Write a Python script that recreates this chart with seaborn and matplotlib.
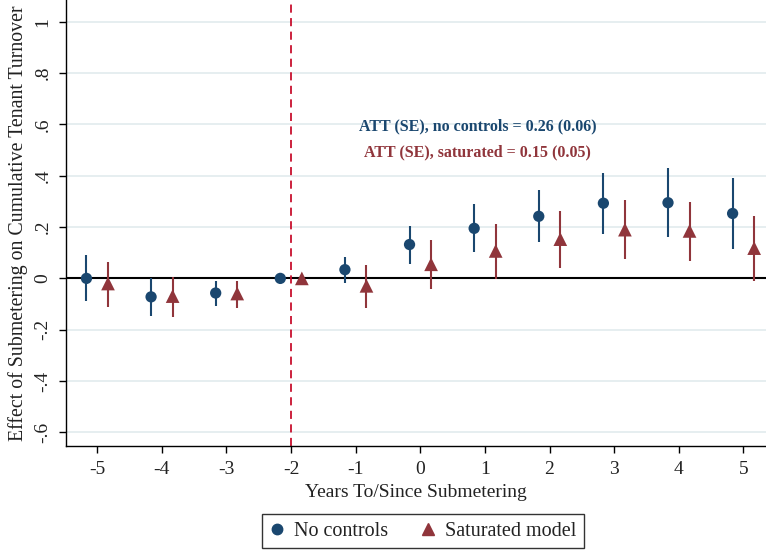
import numpy as np
import pandas as pd
import matplotlib
matplotlib.use("Agg")
import matplotlib.pyplot as plt
from matplotlib.lines import Line2D
import seaborn as sns

# Event-study estimates: years relative to submetering (t = -2 is the omitted year)
event_time = [-5, -4, -3, -2, -1, 0, 1, 2, 3, 4, 5]

no_controls_est = [0.000, -0.072, -0.057, 0.000, 0.034, 0.132, 0.195, 0.242, 0.293, 0.295, 0.253]
no_controls_lo = [-0.089, -0.146, -0.107, 0.000, -0.017, 0.058, 0.101, 0.140, 0.173, 0.160, 0.113]
no_controls_hi = [0.091, 0.000, -0.011, 0.000, 0.084, 0.205, 0.288, 0.343, 0.412, 0.429, 0.392]

saturated_est = [-0.020, -0.069, -0.059, 0.000, -0.029, 0.055, 0.107, 0.153, 0.190, 0.185, 0.118]
saturated_lo = [-0.110, -0.150, -0.115, 0.000, -0.115, -0.043, -0.003, 0.039, 0.074, 0.067, -0.011]
saturated_hi = [0.065, 0.004, -0.009, 0.000, 0.052, 0.148, 0.212, 0.264, 0.304, 0.299, 0.243]

series_names = ["No controls", "Saturated model"]
series_offsets = [-1 / 6, 1 / 6]

att_no_controls = "ATT (SE), no controls = 0.26 (0.06)"
att_saturated = "ATT (SE), saturated = 0.15 (0.05)"

y_ticks = [-0.6, -0.4, -0.2, 0, 0.2, 0.4, 0.6, 0.8, 1.0]
y_tick_labels = ["-.6", "-.4", "-.2", "0", ".2", ".4", ".6", ".8", "1"]

navy = "#1a476f"
maroon = "#90353b"
cranberry = "#c8102e"
grid_col = "#e6eef0"

frames = []
for name, off, est, lo, hi in [
    (series_names[0], series_offsets[0], no_controls_est, no_controls_lo, no_controls_hi),
    (series_names[1], series_offsets[1], saturated_est, saturated_lo, saturated_hi),
]:
    frames.append(pd.DataFrame({
        "event_time": event_time,
        "pos": np.array(event_time) + off,
        "estimate": est,
        "lo": lo,
        "hi": hi,
        "model": name,
    }))
df = pd.concat(frames, ignore_index=True)

sns.set_theme(style="white")
plt.rcParams["font.family"] = ["Liberation Serif", "DejaVu Serif"]

fig = plt.figure(figsize=(7.66, 5.52), dpi=100)
ax = fig.add_axes([0.0856, 0.1926, 1.0 - 0.0856, 1.0 - 0.1926])

palette = {series_names[0]: navy, series_names[1]: maroon}
markers = {series_names[0]: "o", series_names[1]: "^"}
sizes = {series_names[0]: 66, series_names[1]: 97}

# light horizontal grid at each y tick
for yt in y_ticks:
    ax.axhline(yt, color=grid_col, lw=1.4, zorder=0)

ax.axhline(0, color="black", lw=1.5, zorder=1)
ax.axvline(-2, color=cranberry, lw=1.3, ls=(0, (4.5, 3.0)), zorder=1)

# confidence intervals
for name in series_names:
    sub = df[df["model"] == name]
    ax.vlines(sub["pos"], sub["lo"], sub["hi"], color=palette[name], lw=1.5, zorder=2)

sns.scatterplot(
    data=df, x="pos", y="estimate", hue="model", style="model", size="model",
    palette=palette, markers=markers, sizes=sizes, linewidth=0, ax=ax,
    zorder=3, legend=False,
)

ax.set_xlim(-5.49, 5.35)
ax.set_ylim(-0.652, 1.085)
ax.set_xticks(event_time)
ax.set_xticklabels([str(t) for t in event_time])
ax.set_yticks(y_ticks)
ax.set_yticklabels(y_tick_labels, rotation=90, va="center")

ax.tick_params(axis="x", direction="out", length=5, width=1, color="black",
               labelsize=14, labelcolor="#222222", pad=6, bottom=True)
ax.tick_params(axis="y", direction="out", length=5, width=1, color="black",
               labelsize=14, labelcolor="#222222", pad=5, left=True)

for side in ["top", "right"]:
    ax.spines[side].set_visible(False)
for side in ["left", "bottom"]:
    ax.spines[side].set_color("black")
    ax.spines[side].set_linewidth(1.0)

ax.set_xlabel("Years To/Since Submetering", fontsize=14, color="#222222", labelpad=4)
ax.set_ylabel("Effect of Submetering on Cumulative Tenant Turnover", fontsize=14.3,
              color="#222222", labelpad=5)

ax.text(0.89, 0.594, att_no_controls, color=navy, fontsize=11.5, fontweight="bold",
        ha="center", va="center")
ax.text(0.89, 0.493, att_saturated, color=maroon, fontsize=11.5, fontweight="bold",
        ha="center", va="center")

handles = [
    Line2D([], [], ls="none", marker="o", color=navy, markersize=7.5),
    Line2D([], [], ls="none", marker="^", color=maroon, markersize=8.5),
]
leg = fig.legend(handles, series_names, loc="center", bbox_to_anchor=(0.552, 0.038),
                 ncol=2, frameon=True, fancybox=False, edgecolor="black",
                 fontsize=14.5, handletextpad=0.45, columnspacing=1.6, handlelength=0.8,
                 borderpad=0.35, borderaxespad=0, labelcolor="#222222")
leg.get_frame().set_linewidth(1.0)

fig.savefig("out.png", dpi=100)
